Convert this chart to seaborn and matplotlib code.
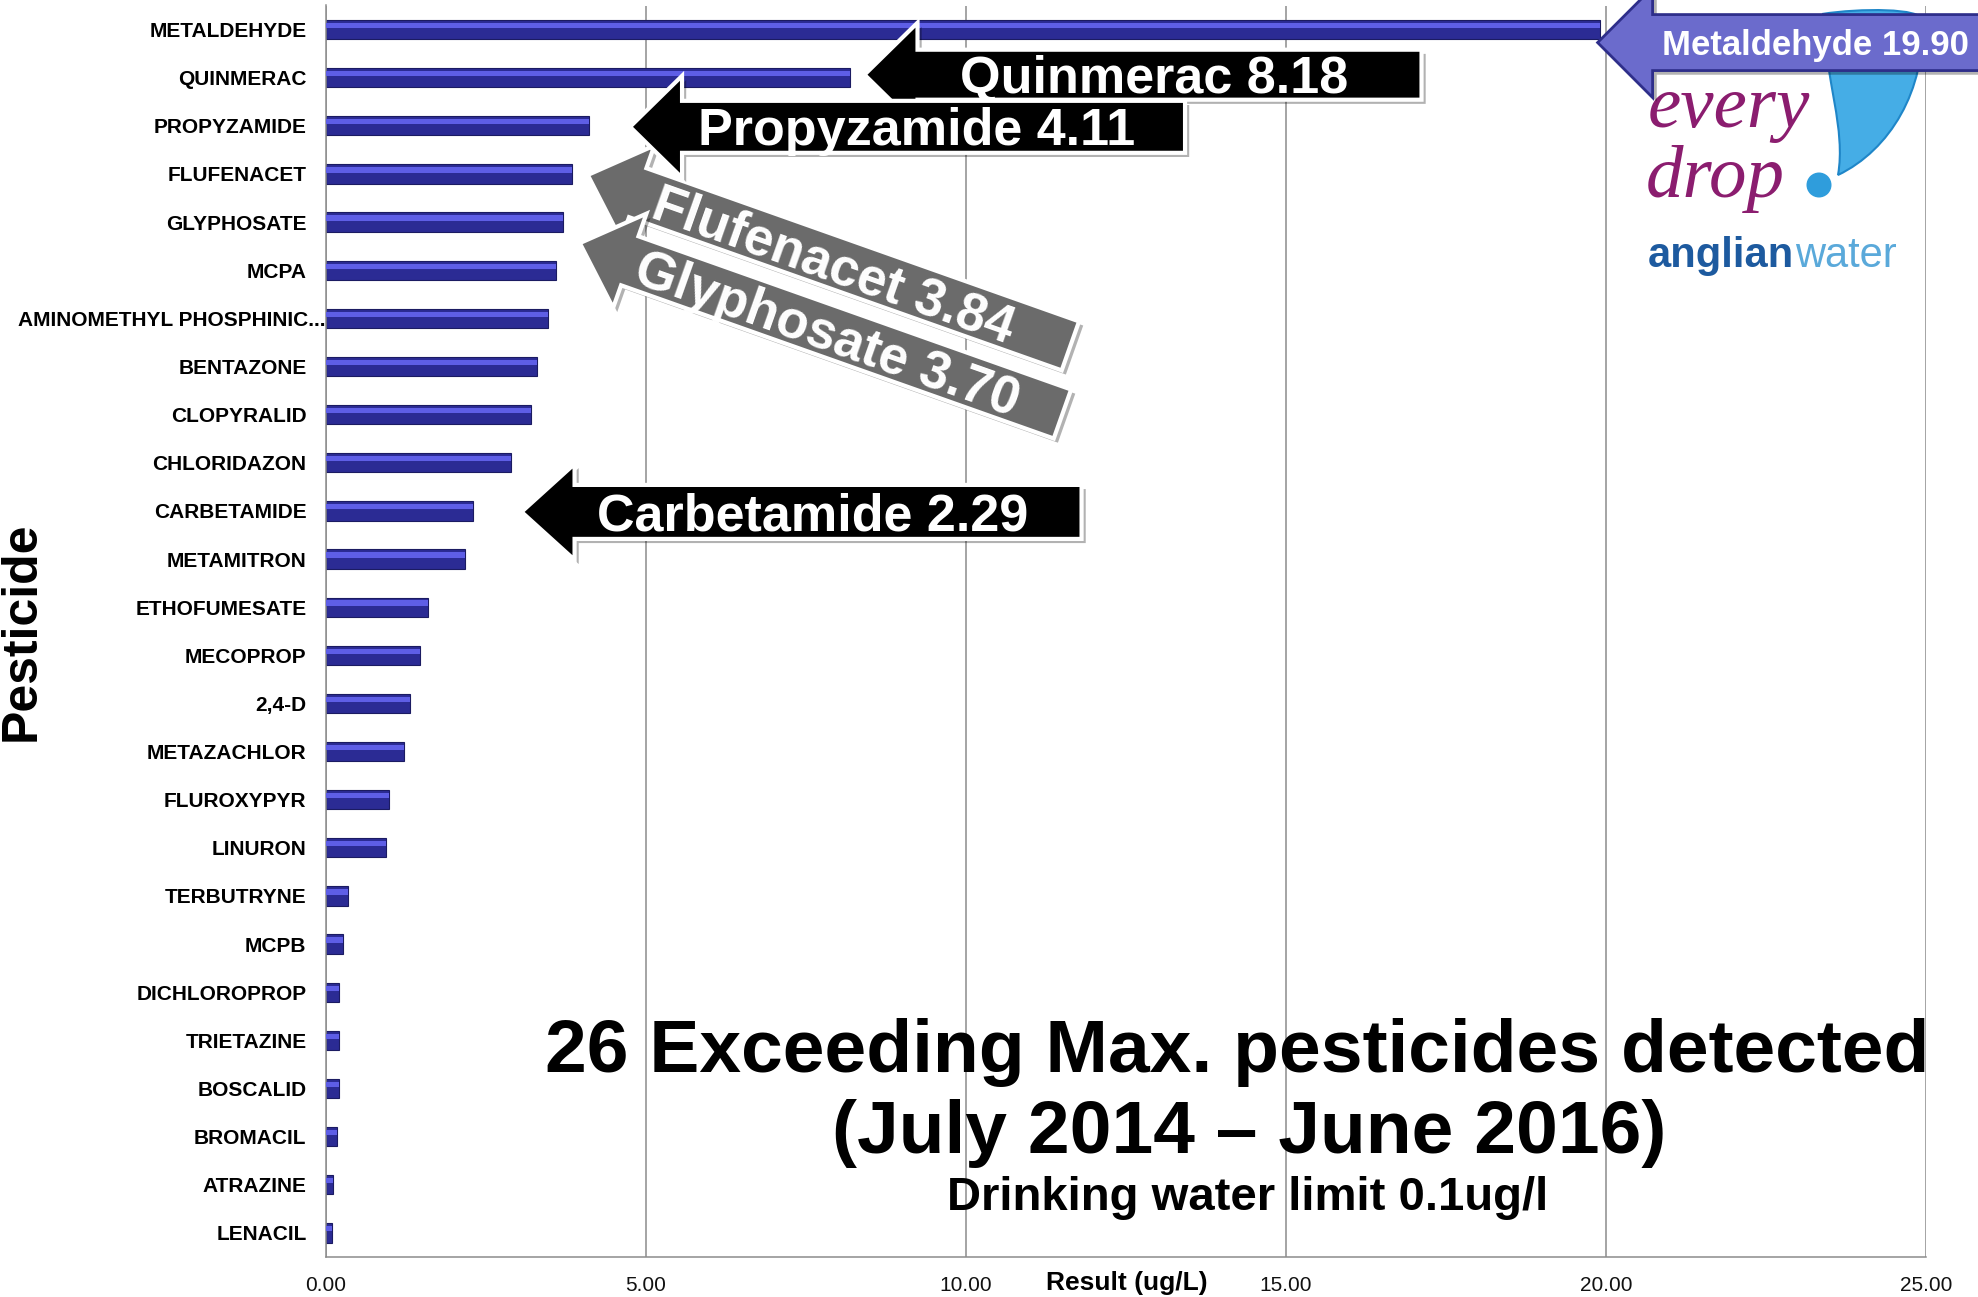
import numpy as np
import pandas as pd
import matplotlib
matplotlib.use('Agg')
import matplotlib.pyplot as plt
import matplotlib.transforms as mtransforms
import matplotlib.patheffects as pe
from matplotlib.patches import Polygon, PathPatch, Circle
from matplotlib.path import Path
import seaborn as sns

# dados
pesticides = ['METALDEHYDE', 'QUINMERAC', 'PROPYZAMIDE', 'FLUFENACET', 'GLYPHOSATE',
              'MCPA', 'AMINOMETHYL PHOSPHINIC...', 'BENTAZONE', 'CLOPYRALID',
              'CHLORIDAZON', 'CARBETAMIDE', 'METAMITRON', 'ETHOFUMESATE', 'MECOPROP',
              '2,4-D', 'METAZACHLOR', 'FLUROXYPYR', 'LINURON', 'TERBUTRYNE', 'MCPB',
              'DICHLOROPROP', 'TRIETAZINE', 'BOSCALID', 'BROMACIL', 'ATRAZINE', 'LENACIL']
results = [19.90, 8.18, 4.11, 3.84, 3.70, 3.59, 3.47, 3.30, 3.20, 2.89, 2.29, 2.17,
           1.60, 1.47, 1.32, 1.22, 0.99, 0.93, 0.35, 0.27, 0.21, 0.21, 0.21, 0.17,
           0.11, 0.10]
x_ticks = [0, 5, 10, 15, 20, 25]

# setas de destaque (indice da barra)
callout_idx = [3, 4, 10, 1, 2, 0]

title_lines = ['26 Exceeding Max. pesticides detected', '(July 2014 \u2013 June 2016)',
               'Drinking water limit 0.1ug/l']

W, H = 1978, 1297
sns.set_theme(style='white')
plt.rcParams['font.family'] = ['Liberation Sans', 'DejaVu Sans']
plt.rcParams['text.color'] = 'black'
plt.rcParams['axes.labelcolor'] = 'black'

df = pd.DataFrame({'Pesticide': pesticides, 'Result': results})
n = len(pesticides)

fig = plt.figure(figsize=(W / 100, H / 100), dpi=100)
ax = fig.add_axes([326 / W, 40 / H, 1600 / W, 1251.5 / H])

sns.barplot(data=df, x='Result', y='Pesticide', orient='h', color='#2b2b94',
            saturation=1, width=0.4, errorbar=None, edgecolor='#1b1b62',
            linewidth=0.8, ax=ax, zorder=2)
# faixa clara no topo das barras
ax.barh(np.arange(n) - 0.085, results, height=0.11, color='#5e5ee6', lw=0, zorder=3)

ax.set_xlim(0, 25)
ax.set_ylim(n - 0.5, -0.5)
ax.set_xticks(x_ticks)
ax.set_xticklabels([f'{t:.2f}' for t in x_ticks])
ax.set_xlabel('')
ax.set_ylabel('')
ax.xaxis.grid(True, color='#8c8c8c', lw=1.1)
ax.yaxis.grid(False)
ax.set_axisbelow(True)

for s in ['top', 'right']:
    ax.spines[s].set_visible(False)
for s in ['left', 'bottom']:
    ax.spines[s].set_color('#8c8c8c')
    ax.spines[s].set_linewidth(1.1)

ax.tick_params(axis='y', which='major', length=0, pad=14, labelsize=15, labelcolor='black')
ax.set_yticks(np.arange(-0.5, n, 1), minor=True)
ax.tick_params(axis='y', which='minor', length=3.6, width=1.1, color='#8c8c8c')
ax.tick_params(axis='x', length=3.6, width=1.1, color='#8c8c8c', pad=10,
               labelsize=15, labelcolor='#111111')
for k, lab in enumerate(ax.get_yticklabels()):
    lab.set_fontweight('bold')
    if lab.get_text().endswith('...'):
        # rotulo truncado encosta no eixo
        lab.set_transform(lab.get_transform() + mtransforms.Affine2D().translate(19, 0))

fig.text(1127 / W, 1 - 1283 / H, 'Result (ug/L)', ha='center', va='center',
         fontsize=19, fontweight='bold')
fig.text(35 / W, 1 - 631 / H, 'Pesticide', rotation=90, rotation_mode='anchor',
         ha='center', va='baseline', fontsize=36, fontweight='bold')

# titulo
fig.text(1237 / W, 1 - 1072 / H, title_lines[0], ha='center', va='baseline',
         fontsize=54, fontweight='bold', zorder=4)
fig.text(1249 / W, 1 - 1153 / H, title_lines[1], ha='center', va='baseline',
         fontsize=54, fontweight='bold', zorder=4)
fig.text(1248 / W, 1 - 1210 / H, title_lines[2], ha='center', va='baseline',
         fontsize=34, fontweight='bold', zorder=4)

# logo (aproximado)
pix = mtransforms.Affine2D().scale(1, -1).translate(0, H)
drop = Path([(1822, 14), (1860, 8), (1922, 8), (1922, 20),
             (1926, 90), (1890, 150), (1838, 175),
             (1846, 130), (1826, 80), (1822, 14)],
            [Path.MOVETO, Path.CURVE4, Path.CURVE4, Path.CURVE4,
             Path.CURVE4, Path.CURVE4, Path.CURVE4,
             Path.CURVE4, Path.CURVE4, Path.CURVE4])
fig.add_artist(PathPatch(drop, fc='#45ade6', ec='#1f86c8', lw=1.5, transform=pix, zorder=2))
fig.add_artist(Circle((1819, 185), 12.5, fc='#2f9ddc', ec='none', transform=pix, zorder=2))
fig.text(1648, 127, 'every', transform=pix, family='Liberation Serif', style='italic',
         fontsize=54, color='#8b1d6f', va='baseline', zorder=2)
fig.text(1646, 197, 'drop', transform=pix, family='Liberation Serif', style='italic',
         fontsize=54, color='#8b1d6f', va='baseline', zorder=2)
fig.text(1648, 267, 'anglian', transform=pix, fontsize=30, fontweight='bold',
         color='#1d5a9f', va='baseline', zorder=2)
fig.text(1648 + 147, 267, 'water', transform=pix, fontsize=30, color='#5aa9da',
         va='baseline', zorder=2)

# estilos das setas: dx, dy (px), angulo, comprimento, cabeca, corpo, cores, fonte
styles = {
    3: dict(dx=16, dy=1, ang=19.5, L=512, hl=53, hh=50, bh=26, fc='#6b6b6b', ec='white', lw=3, fs=38, ts=72, z=5),
    4: dict(dx=17, dy=21, ang=19.5, L=512, hl=53, hh=50, bh=26, fc='#6b6b6b', ec='white', lw=3, fs=38, ts=62, z=6),
    10: dict(dx=49, dy=1, ang=0, L=560, hl=53, hh=48, bh=27, fc='black', ec='white', lw=3, fs=37.5, ts=75, z=7),
    1: dict(dx=15, dy=-3, ang=0, L=557, hl=53, hh=52, bh=25, fc='black', ec='white', lw=3, fs=37.5, ts=95, z=8),
    2: dict(dx=41, dy=1, ang=0, L=555, hl=52, hh=51, bh=26, fc='black', ec='white', lw=3, fs=37.5, ts=68, z=9),
    0: dict(dx=-2, dy=13, ang=0, L=460, hl=55, hh=55, bh=28, fc='#6b6bcc', ec='#2e2e8a', lw=2, fs=25, ts=64, z=10),
}

for i in callout_idx:
    st = styles[i]
    base = mtransforms.ScaledTranslation(results[i], i, ax.transData)
    tr = mtransforms.Affine2D().rotate_deg(-st['ang']).translate(st['dx'], -st['dy']) + base
    hl, hh, bh, L = st['hl'], st['hh'], st['bh'], st['L']
    verts = [(0, 0), (hl, hh), (hl, bh), (L, bh), (L, -bh), (hl, -bh), (hl, -hh)]
    poly = Polygon(verts, closed=True, fc=st['fc'], ec=st['ec'], lw=st['lw'],
                   transform=tr, zorder=st['z'], joinstyle='miter',
                   path_effects=[pe.withSimplePatchShadow(offset=(3, -3), shadow_rgbFace='black', alpha=0.3)])
    fig.add_artist(poly)
    label = f'{pesticides[i].capitalize()} {results[i]:.2f}'
    cap = 0.716 * st['fs'] * 100 / 72
    fig.text(st['ts'], -cap / 2, label, transform=tr, rotation=-st['ang'],
             rotation_mode='anchor', ha='left', va='baseline', color='white',
             fontsize=st['fs'], fontweight='bold', zorder=st['z'] + 0.5)

fig.savefig('out.png', dpi=100)
